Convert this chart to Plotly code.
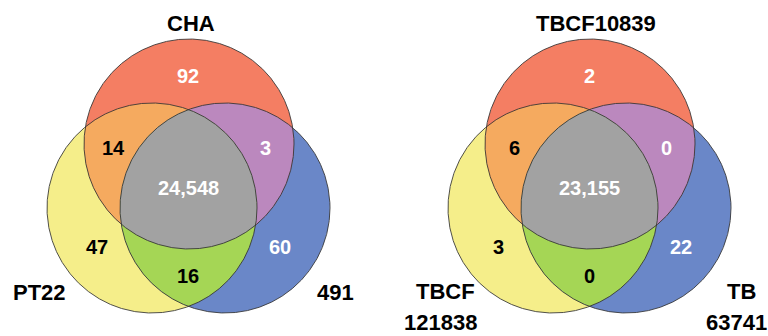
import numpy as np
import plotly.graph_objects as go

# set names: top (red), left (yellow), right (blue)
left_sets = ["CHA", "PT22", "491"]
right_sets = ["TBCF10839", "TBCF<br>121838", "TB<br>63741"]

# region order: top only, top&left, top&right, all, left only, right only, left&right
region_keys = ["T", "TL", "TR", "TLR", "L", "R", "LR"]
left_counts = [92, 14, 3, 24548, 47, 60, 16]
right_counts = [2, 6, 0, 23155, 3, 22, 0]

region_colors = {"T": "#F47E63", "L": "#F5EE8A", "R": "#6A87C8",
                 "TL": "#F5AA5F", "TR": "#BB88BE", "LR": "#A5D655", "TLR": "#A2A2A2"}
text_colors = {"T": "white", "TL": "black", "TR": "white", "TLR": "white",
               "L": "black", "R": "white", "LR": "black"}

# geometry (pixels), relative to the red circle centre
R = 105
circle_offsets = {"T": (0, 0), "L": (-37, 64), "R": (36, 64)}
label_offsets = {"T": (-1, -68), "TL": (-76, 4), "TR": (76, 4), "TLR": (-1, 44),
                 "L": (-92, 103), "R": (91, 103), "LR": (-1, 132)}
diagram_centres = [(189, 144), (590, 144)]
# pixel position of each line of the set names (top, left, right)
name_positions = [
    [[(191, 23)], [(39, 292)], [(335, 292)]],
    [[(596, 23)], [(445, 291), (440, 322)], [(741, 291), (736, 322)]],
]

FONT = "Liberation Sans, Arial, sans-serif"


def circle_points(cx, cy, r, n=1440):
    a = np.linspace(0, 2 * np.pi, n, endpoint=False)
    return cx + r * np.cos(a), cy + r * np.sin(a)


def intersection(circles):
    xs, ys = [], []
    for i, (cx, cy) in enumerate(circles):
        px, py = circle_points(cx, cy, R)
        keep = np.ones_like(px, dtype=bool)
        for j, (ox, oy) in enumerate(circles):
            if j != i:
                keep &= np.hypot(px - ox, py - oy) <= R + 1e-6
        xs.append(px[keep]); ys.append(py[keep])
    xs = np.concatenate(xs); ys = np.concatenate(ys)
    order = np.argsort(np.arctan2(ys - ys.mean(), xs - xs.mean()))
    return list(xs[order]) + [xs[order][0]], list(ys[order]) + [ys[order][0]]


fig = go.Figure()
annotations = []

for (dx, dy), names, counts, npos in zip(diagram_centres, [left_sets, right_sets],
                                         [left_counts, right_counts], name_positions):
    centres = {k: (dx + ox, dy + oy) for k, (ox, oy) in circle_offsets.items()}
    layers = ["L", "R", "T", "TL", "TR", "LR", "TLR"]
    for key in layers:
        x, y = intersection([centres[c] for c in key])
        fig.add_trace(go.Scatter(x=x, y=y, fill="toself", fillcolor=region_colors[key],
                                 mode="lines", line=dict(width=0), hoverinfo="skip"))
    for key in ["T", "L", "R"]:
        px, py = circle_points(*centres[key], R)
        fig.add_trace(go.Scatter(x=list(px) + [px[0]], y=list(py) + [py[0]], mode="lines",
                                 line=dict(color="rgba(50,50,50,0.85)", width=1), hoverinfo="skip"))
    for key, val in zip(region_keys, counts):
        ox, oy = label_offsets[key]
        annotations.append(dict(x=dx + ox, y=dy + oy, text=f"{val:,}", showarrow=False,
                                xanchor="center", yanchor="middle",
                                font=dict(family=FONT, size=20, color=text_colors[key], weight="bold")))
    for name, lines_pos in zip(names, npos):
        for line, (lx, ly) in zip(name.split("<br>"), lines_pos):
            annotations.append(dict(x=lx, y=ly, text=line, showarrow=False,
                                    xanchor="center", yanchor="middle", borderpad=0,
                                    font=dict(family=FONT, size=22, color="black", weight="bold")))

fig.update_layout(width=768, height=336, margin=dict(l=0, r=0, t=0, b=0),
                  paper_bgcolor="white", plot_bgcolor="white", showlegend=False,
                  annotations=annotations,
                  xaxis=dict(range=[0, 768], visible=False, fixedrange=True),
                  yaxis=dict(range=[336, 0], visible=False, fixedrange=True))
fig.write_html("out.html", config={"displayModeBar": False},
               post_script="document.body.style.margin='0';document.body.style.overflow='hidden';")
